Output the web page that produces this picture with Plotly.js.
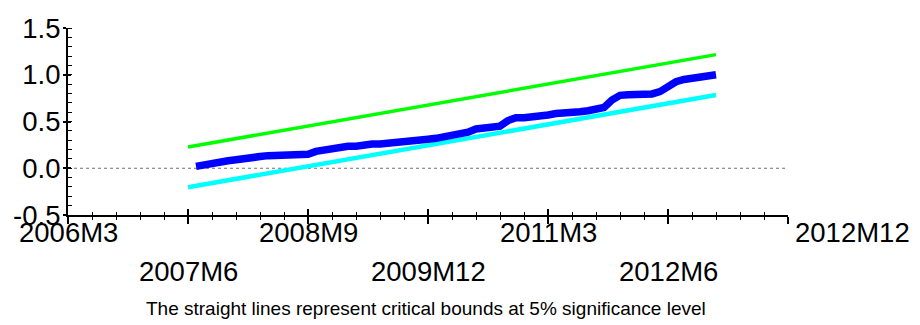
<!DOCTYPE html>
<html>
<head>
<meta charset="utf-8">
<script src="https://cdn.plot.ly/plotly-3.0.1.min.js"></script>
<style>
  html, body { margin: 0; padding: 0; background: #fff; }
  #chart { width: 920px; height: 325px; }
</style>
</head>
<body>
<div id="chart"></div>
<script>
// CUSUM of squares test, monthly sample, with 5% critical bounds.

// Sample window shown on the time axis
const axisStart = '2006M3';
const axisEnd = '2013M9';

// Recursive CUSUM of squares statistic, one value per month from 2007M7 to 2012M12
const cusumStart = '2007M7';
const cusumSq = [
  0.02, 0.04, 0.05, 0.06, 0.08, 0.09, 0.095, 0.10, 0.125, 0.135,
  0.14, 0.14, 0.14, 0.14, 0.15, 0.18, 0.195, 0.205, 0.23, 0.235,
  0.235, 0.255, 0.26, 0.26, 0.265, 0.27, 0.285, 0.285, 0.29, 0.31,
  0.32, 0.335, 0.35, 0.36, 0.385, 0.42, 0.43, 0.435, 0.45, 0.51,
  0.54, 0.54, 0.545, 0.555, 0.57, 0.585, 0.585, 0.59, 0.605, 0.615,
  0.63, 0.65, 0.73, 0.78, 0.785, 0.785, 0.785, 0.795, 0.82, 0.88,
  0.925, 0.95, 0.965, 0.98, 0.99, 1.0
];

// Straight-line 5% critical bounds (end points)
const boundPeriods = ['2007M6', '2012M12'];
const upperBound = [0.227, 1.215];
const lowerBound = [-0.203, 0.783];

// Time axis labels: upper row, lower row, and the sample end label
const tickRowA = ['2006M3', '2008M9', '2011M3'];
const tickRowB = ['2007M6', '2009M12', '2012M6'];
const endLabel = '2012M12';
const caption = 'The straight lines represent critical bounds at 5% significance level';

// y-axis ticks
const yTicks = [-0.5, 0.0, 0.5, 1.0, 1.5];
const yTickText = ['-0.5', '0.0', '0.5', '1.0', '1.5'];

// ---- helpers ----
function parsePeriod(p) {
  const m = p.match(/^(\d{4})M(\d{1,2})$/);
  return { y: +m[1], m: +m[2] };
}
const base = parsePeriod(axisStart);
function idx(p) {
  const q = parsePeriod(p);
  return (q.y - base.y) * 12 + (q.m - base.m);
}

const x0 = idx(axisStart);
const x1 = idx(axisEnd);
const c0 = idx(cusumStart);
const cusumX = cusumSq.map((_, i) => c0 + i);
const boundX = boundPeriods.map(idx);
const majorTicks = tickRowA.concat(tickRowB).map(idx).concat([x1]).sort((a, b) => a - b);

const FONT = 'Liberation Sans, Arial, sans-serif';
const LABEL_SIZE = 27.5;

const traces = [
  { x: boundX, y: upperBound, type: 'scatter', mode: 'lines',
    line: { color: '#00FF00', width: 3.5 }, hoverinfo: 'skip', showlegend: false },
  { x: boundX, y: lowerBound, type: 'scatter', mode: 'lines',
    line: { color: '#00FFFF', width: 4.5 }, hoverinfo: 'skip', showlegend: false },
  { x: cusumX, y: cusumSq, type: 'scatter', mode: 'lines',
    line: { color: '#0000FF', width: 7.5 }, hoverinfo: 'skip', showlegend: false },
  // carrier trace for the inner-tick overlay axes
  { x: [], y: [], xaxis: 'x2', yaxis: 'y2', type: 'scatter', mode: 'lines',
    hoverinfo: 'skip', showlegend: false }
];

const annotations = [];
tickRowA.forEach(t => annotations.push({
  x: idx(t), xref: 'x', y: 0, yref: 'paper', text: t, showarrow: false,
  xanchor: 'center', yanchor: 'top', yshift: 0,
  font: { family: FONT, size: LABEL_SIZE, color: '#000' }
}));
tickRowB.forEach(t => annotations.push({
  x: idx(t), xref: 'x', y: 0, yref: 'paper', text: t, showarrow: false,
  xanchor: 'center', yanchor: 'top', yshift: -39,
  font: { family: FONT, size: LABEL_SIZE, color: '#000' }
}));
annotations.push({
  x: x1, xref: 'x', y: 0, yref: 'paper', text: endLabel, showarrow: false,
  xanchor: 'left', yanchor: 'top', yshift: 0, xshift: 5,
  font: { family: FONT, size: LABEL_SIZE, color: '#000' }
});
annotations.push({
  x: 0.497, xref: 'paper', y: 0, yref: 'paper', text: caption, showarrow: false,
  xanchor: 'center', yanchor: 'top', yshift: -81,
  font: { family: FONT, size: 19, color: '#000' }
});

const layout = {
  width: 920, height: 325,
  margin: { l: 68, r: 132, t: 28, b: 110, pad: 0 },
  paper_bgcolor: '#fff', plot_bgcolor: '#fff',
  showlegend: false,
  xaxis: {
    range: [x0, x1], showgrid: false, zeroline: false,
    showline: true, linecolor: '#000', linewidth: 2,
    tickmode: 'array', tickvals: majorTicks, showticklabels: false,
    ticks: 'outside', ticklen: 7, tickwidth: 2, tickcolor: '#000',
    minor: { tickmode: 'linear', tick0: x0, dtick: 3, ticks: 'outside', ticklen: 3, tickwidth: 1, tickcolor: '#000', showgrid: false },
    fixedrange: true
  },
  xaxis2: {
    overlaying: 'x', matches: 'x', anchor: 'y2', showgrid: false, zeroline: false,
    showline: false, tickmode: 'array', tickvals: majorTicks, showticklabels: false,
    ticks: 'inside', ticklen: 6, tickwidth: 2, tickcolor: '#000',
    minor: { tickmode: 'linear', tick0: x0, dtick: 3, ticks: 'inside', ticklen: 3, tickwidth: 1, tickcolor: '#000', showgrid: false },
    fixedrange: true
  },
  yaxis: {
    range: [-0.5, 1.5], showgrid: false, zeroline: false,
    showline: true, linecolor: '#000', linewidth: 2,
    tickmode: 'array', tickvals: yTicks, ticktext: yTickText,
    ticks: 'outside', ticklen: 3, tickwidth: 2, tickcolor: '#000',
    ticklabelstandoff: -3,
    tickfont: { family: FONT, size: LABEL_SIZE, color: '#000' },
    minor: { tickmode: 'linear', tick0: -0.5, dtick: 0.1, ticks: 'inside', ticklen: 4, tickwidth: 1, tickcolor: '#000', showgrid: false },
    fixedrange: true
  },
  yaxis2: {
    overlaying: 'y', matches: 'y', anchor: 'x2', side: 'left', showgrid: false, zeroline: false,
    showline: false, tickmode: 'array', tickvals: yTicks, showticklabels: false,
    ticks: 'inside', ticklen: 3, tickwidth: 2, tickcolor: '#000',
    fixedrange: true
  },
  shapes: [
    { type: 'line', xref: 'x', yref: 'y', x0: x0, x1: x1, y0: 0, y1: 0,
      line: { color: '#707070', width: 1, dash: 'dot' }, layer: 'below' }
  ],
  annotations: annotations
};

Plotly.newPlot('chart', traces, layout, { staticPlot: true, displayModeBar: false });
</script>
</body>
</html>
